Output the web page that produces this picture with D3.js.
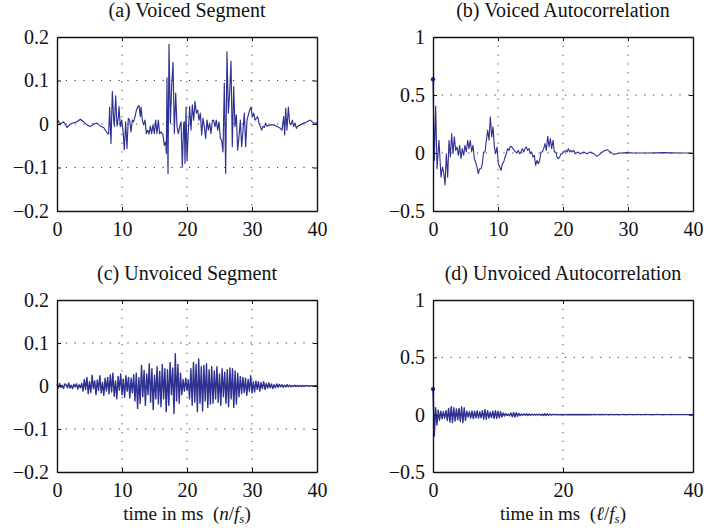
<!DOCTYPE html>
<html><head><meta charset="utf-8">
<script src="https://cdn.jsdelivr.net/npm/d3@7"></script>
<style>
body{margin:0;background:#fff}
svg{display:block}
text{font-family:"Liberation Serif","Times New Roman",serif;fill:#111}
</style>
</head><body>
<svg id="chart" width="704" height="531"></svg>
<script>
// ---------- data ----------
const panelTitles = ["(a) Voiced Segment","(b) Voiced Autocorrelation","(c) Unvoiced Segment","(d) Unvoiced Autocorrelation"];
const xTicksAB = [0,10,20,30,40];
const xTicksC = [0,10,20,30,40];
const xTicksD = [0,20,40];
const yTicksSeg = [-0.2,-0.1,0,0.1,0.2];
const yTicksAuto = [-0.5,0,0.5,1];
const yGridSeg = [-0.1,0,0.1];
const yGridAuto = [0,0.5];

// (a) voiced segment: time (ms), amplitude
const voicedT = [0.10,0.51,1.03,1.54,2.05,2.56,3.08,3.59,4.10,4.62,5.13,5.64,6.15,6.67,7.18,7.69,7.95,8.10,8.31,8.51,8.72,8.82,9.03,9.23,9.44,9.54,9.74,9.95,10.15,10.36,10.56,10.77,10.97,11.18,11.38,11.59,11.79,12.00,12.21,12.41,12.62,12.82,12.92,13.13,13.33,13.54,13.74,13.95,14.15,14.36,14.56,14.77,14.97,15.18,15.38,15.59,15.79,16.00,16.31,16.51,16.72,16.82,16.92,17.08,17.23,17.44,17.64,17.85,18.05,18.26,18.46,18.67,18.87,19.08,19.28,19.49,19.59,19.69,19.85,20.00,20.21,20.41,20.62,20.82,21.03,21.23,21.44,21.64,21.85,22.05,22.26,22.46,22.67,22.87,23.08,23.28,23.49,23.69,23.90,24.10,24.31,24.51,24.72,24.92,25.13,25.33,25.54,25.74,25.95,26.15,26.36,26.56,26.77,26.97,27.18,27.38,27.59,27.79,28.00,28.21,28.41,28.62,28.82,29.03,29.23,29.44,29.64,29.85,30.05,30.26,30.46,30.67,30.87,31.08,31.28,31.49,31.69,31.90,32.10,32.31,32.82,33.33,33.85,34.36,34.62,34.87,35.03,35.18,35.38,35.59,35.79,36.00,36.21,36.41,36.62,36.82,37.03,37.44,37.95,38.46,38.97,39.49,40.00];
const voicedV = [.009,0,.005,-.008,0,.003,.005,.011,.005,-.002,-.006,0,.002,-.005,-.008,-.020,-.023,.039,-.045,.075,.009,-.005,.065,-.005,.015,.040,-.006,.009,-.014,-.059,.005,-.056,.013,.009,-.018,.009,.005,.017,.031,.039,.042,.017,.039,.009,-.002,.009,-.022,-.014,-.023,-.005,-.022,-.002,-.022,.009,-.022,.009,-.022,-.018,-.025,-.049,-.041,-.068,.106,-.114,.183,.002,.086,.142,-.022,.071,-.006,-.022,-.006,.005,-.099,.002,.005,-.091,.039,-.083,-.014,.040,-.014,.044,.009,.052,.025,.032,.009,.025,-.025,.013,-.006,-.033,.009,-.014,.002,-.022,.008,.009,-.006,.009,-.014,.005,-.033,-.037,-.064,.094,-.114,.166,.025,.071,.144,-.052,.086,-.006,.021,-.060,-.029,.009,-.052,-.014,.025,-.052,.009,.021,.032,.039,.017,.025,.009,.013,.017,.002,-.006,-.014,-.005,-.008,.002,-.005,-.002,-.002,-.006,-.010,-.014,.017,-.025,.036,-.014,.039,.002,-.002,.009,-.006,.002,-.010,-.005,-.002,.002,.005,.009,.002,.002];

// (b) voiced autocorrelation: lag (ms), value
const vAutoT = [0,0.21,0.41,0.62,0.92,1.23,1.44,1.64,1.85,2.05,2.26,2.46,2.67,2.87,3.08,3.28,3.49,3.69,3.90,4.10,4.31,4.51,4.72,4.92,5.13,5.33,5.54,5.74,5.95,6.15,6.36,6.56,6.77,6.97,7.18,7.38,7.59,7.79,8.00,8.21,8.41,8.62,8.82,9.03,9.23,9.44,9.64,9.85,10.05,10.26,10.46,10.67,10.87,11.08,11.28,11.49,11.69,11.90,12.10,12.31,12.51,12.72,12.92,13.13,13.33,13.54,13.74,13.95,14.15,14.36,14.56,14.77,14.97,15.18,15.38,15.59,15.79,16.00,16.21,16.41,16.62,16.82,17.03,17.23,17.44,17.64,17.85,18.05,18.26,18.46,18.67,18.87,19.08,19.28,19.49,19.69,19.90,20.10,20.41,20.62,20.82,21.03,21.23,21.44,21.64,21.95,22.26,22.67,23.18,23.69,24.21,24.72,25.23,25.74,26.26,26.77,27.28,27.79,28.31,28.82,29.85,30.87,32.92,35.49,38.05,39.95];
const vAutoV = [.636,-.064,.405,-.136,.110,-.208,-.121,-.165,-.275,-.006,-.208,.110,-.035,.168,-.006,.139,.023,.052,-.020,.066,-.049,.038,-.020,.066,.009,.110,.038,.110,.009,.066,-.049,-.078,-.121,-.179,-.136,-.136,-.092,.009,.009,.110,.197,.110,.312,.139,.225,.052,-.006,.052,-.092,-.121,-.150,-.092,-.078,-.035,-.006,.038,.023,.058,.052,.038,.023,.009,0,.023,-.006,.009,.038,.009,.038,.052,.023,.038,-.006,.009,-.035,-.020,-.107,-.064,-.092,-.064,.009,.009,.038,.081,.023,.145,.052,.124,.038,.110,.009,.009,-.035,-.049,-.035,-.006,-.006,.009,.023,.009,.038,.009,.023,.009,.023,-.006,.009,-.006,.009,-.006,.009,-.006,-.029,-.006,.017,.029,.009,-.012,-.006,0,.003,0,0,.003,0,0];

// (c) unvoiced segment and (d) unvoiced autocorrelation: sampled every 0.2 ms from 0 to 40 ms
const unvoicedStepMs = 0.2;
const unvoicedV = [
.004,-.005,.006,-.003,.002,-.006,.005,.003,-.004,.007,-.005,.002,-.006,.004,-.002,.005,-.007,.003,-.004,.006,
-.012,.015,-.008,.02,-.018,.01,-.015,.025,-.006,.012,-.02,.014,-.01,.024,-.016,.008,-.022,.018,-.012,.02,
-.018,.026,-.014,.03,-.024,.012,-.03,.022,-.01,.028,-.02,.016,-.026,.024,-.012,.02,-.028,.018,-.016,.026,
-.035,.03,-.052,.02,-.04,.048,-.025,.036,-.045,.028,-.02,.052,-.038,.04,-.055,.025,-.03,.045,-.042,.034,
-.048,.05,-.03,.04,-.06,.038,-.045,.055,-.02,.042,-.064,.075,-.035,.05,-.04,.03,-.02,.015,-.012,.018,
-.01,.014,-.03,.04,-.045,.055,-.038,.05,-.06,.063,-.04,.045,-.058,.048,-.035,.052,-.05,.038,-.042,.045,
-.04,.035,-.03,.045,-.038,.028,-.045,.04,-.025,.032,-.04,.038,-.048,.042,-.03,.04,-.05,.035,-.042,.03,
-.025,.022,-.018,.02,-.015,.018,-.022,.015,-.012,.024,-.016,.01,-.014,.012,-.008,.01,-.012,.008,-.006,.01,
-.008,.006,-.005,.007,-.004,.005,-.006,.003,-.004,.005,-.003,.004,-.002,.003,-.003,.002,-.002,.003,-.002,.002,
-.002,.001,-.001,.002,-.001,.001,-.001,.001,-.001,.001,-.001,.001,0,.001,-.001,0,.001,-.001,0,.001,0];
const uAutoV = [
.223,-.186,.06,-.09,.04,-.05,.03,-.035,.025,-.03,
.035,-.05,.055,-.065,.07,-.068,.06,-.055,.05,-.045,
.055,-.06,.068,-.07,.06,-.05,.03,-.02,.025,-.03,
.032,-.035,.03,-.028,.032,-.03,.025,-.028,.035,-.04,
.045,-.04,.035,-.03,.022,-.025,.03,-.032,.035,-.033,
.03,-.028,.025,-.02,.015,-.012,.01,-.008,.006,-.01,
.015,-.018,.02,-.02,.018,-.015,.012,-.008,.005,-.004,
.005,-.006,.008,-.008,.006,-.005,.004,-.003,.003,-.003,
.002,-.003,.004,-.005,.006,-.007,.008,-.008,.007,-.005,
.004,-.003,.002,-.002,.002,-.001,.002,-.002,.001,-.001,
.001,-.002,.002,-.001,.001,-.001,.001,-.001,.001,-.001,
.001,-.001,.001,-.001,.001,-.001,.001,-.001,.001,-.001,
.001,-.001,.001,0,.001,-.001,0,.001,-.001,0,
.001,-.001,0,.001,0,-.001,0,.001,0,-.001,
0,.001,0,-.001,0,0,.001,0,-.001,0,
0,.001,0,0,-.001,0,0,.001,0,0,
-.001,0,0,0,.001,0,0,0,-.001,0,
0,0,.001,0,0,0,0,-.001,0,0,
0,0,0,.001,0,0,0,0,0,0,
0,0,0,0,0,0,0,0,0,0,0];

// ---------- drawing ----------
const svg = d3.select("#chart");
const lineColor = "#2e3192";
const fontSize = 20;

function pts(ts, vs){ return ts.map((t,i)=>({t:t, v:vs[i]})); }
function sampled(vs, step){ return vs.map((v,i)=>({t:+(i*step).toFixed(3), v:v})); }

const panels = [
  {title:panelTitles[0], x0:57, x1:317, y0:37, y1:211, yDom:[-0.2,0.2], xt:xTicksAB, yt:yTicksSeg, gx:[10,20,30], gy:yGridSeg, data:pts(voicedT,voicedV), dot:false, xlabel:null, sw:1.15},
  {title:panelTitles[1], x0:433, x1:693, y0:37, y1:211, yDom:[-0.5,1], xt:xTicksAB, yt:yTicksAuto, gx:[10,20,30], gy:yGridAuto, data:pts(vAutoT,vAutoV), dot:true, xlabel:null, sw:1.1},
  {title:panelTitles[2], x0:57, x1:317, y0:300, y1:472, yDom:[-0.2,0.2], xt:xTicksC, yt:yTicksSeg, gx:[10,20,30], gy:yGridSeg, data:sampled(unvoicedV,unvoicedStepMs), dot:false, xlabel:"n", sw:1.4},
  {title:panelTitles[3], x0:433, x1:693, y0:300, y1:472, yDom:[-0.5,1], xt:xTicksD, yt:yTicksAuto, gx:[20], gy:yGridAuto, data:sampled(uAutoV,unvoicedStepMs), dot:true, xlabel:"\u2113", sw:1.4}
];

const fmt = d3.format("");

panels.forEach(p=>{
  const x = d3.scaleLinear().domain([0,40]).range([p.x0,p.x1]);
  const y = d3.scaleLinear().domain(p.yDom).range([p.y1,p.y0]);
  const g = svg.append("g");

  // title
  g.append("text").attr("x",(p.x0+p.x1)/2).attr("y",p.y0-20)
    .attr("text-anchor","middle").attr("font-size",fontSize).text(p.title);

  // grid
  const grid = g.append("g").attr("stroke","#222").attr("stroke-width",0.9).attr("stroke-dasharray","1.2,7.6");
  p.gx.forEach(v=>grid.append("line").attr("x1",x(v)).attr("x2",x(v)).attr("y1",p.y0).attr("y2",p.y1));
  p.gy.forEach(v=>grid.append("line").attr("x1",p.x0).attr("x2",p.x1).attr("y1",y(v)).attr("y2",y(v)));

  // signal
  const line = d3.line().x(d=>x(d.t)).y(d=>y(d.v));
  g.append("path").datum(p.data).attr("d",line).attr("fill","none")
    .attr("stroke",lineColor).attr("stroke-width",p.sw).attr("stroke-linejoin","round");
  if(p.dot){
    g.append("circle").attr("cx",x(p.data[0].t)).attr("cy",y(p.data[0].v)).attr("r",2.2).attr("fill",lineColor);
  }

  // axes (inward ticks on all four sides)
  const styleAxis = sel=>{
    sel.select(".domain").attr("stroke","#111").attr("stroke-width",1.4);
    sel.selectAll(".tick line").attr("stroke","#111").attr("stroke-width",1);
    sel.selectAll(".tick text").attr("font-size",fontSize).attr("font-family","'Liberation Serif','Times New Roman',serif").attr("fill","#111");
  };
  g.append("g").attr("transform",`translate(0,${p.y1})`)
    .call(d3.axisBottom(x).tickValues(p.xt).tickFormat(fmt).tickSize(-4).tickSizeOuter(0).tickPadding(11))
    .call(styleAxis);
  g.append("g").attr("transform",`translate(0,${p.y0})`)
    .call(d3.axisTop(x).tickValues(p.xt).tickFormat("").tickSize(-4).tickSizeOuter(0))
    .call(styleAxis);
  g.append("g").attr("transform",`translate(${p.x0},0)`)
    .call(d3.axisLeft(y).tickValues(p.yt).tickFormat(fmt).tickSize(-4).tickSizeOuter(0).tickPadding(8))
    .call(styleAxis);
  g.append("g").attr("transform",`translate(${p.x1},0)`)
    .call(d3.axisRight(y).tickValues(p.yt).tickFormat("").tickSize(-4).tickSizeOuter(0))
    .call(styleAxis);
  g.selectAll(".domain").attr("fill","none");

  // x label
  if(p.xlabel){
    const t = g.append("text").attr("x",(p.x0+p.x1)/2).attr("y",p.y1+48)
      .attr("text-anchor","middle").attr("font-size",19);
    t.append("tspan").text("time in ms\u2002(");
    t.append("tspan").attr("font-style","italic").text(p.xlabel);
    t.append("tspan").text("/");
    t.append("tspan").attr("font-style","italic").text("f");
    t.append("tspan").attr("font-style","italic").attr("font-size",13).attr("dy",3).text("s");
    t.append("tspan").attr("dy",-3).text(")");
  }
});
</script>
</body></html>
